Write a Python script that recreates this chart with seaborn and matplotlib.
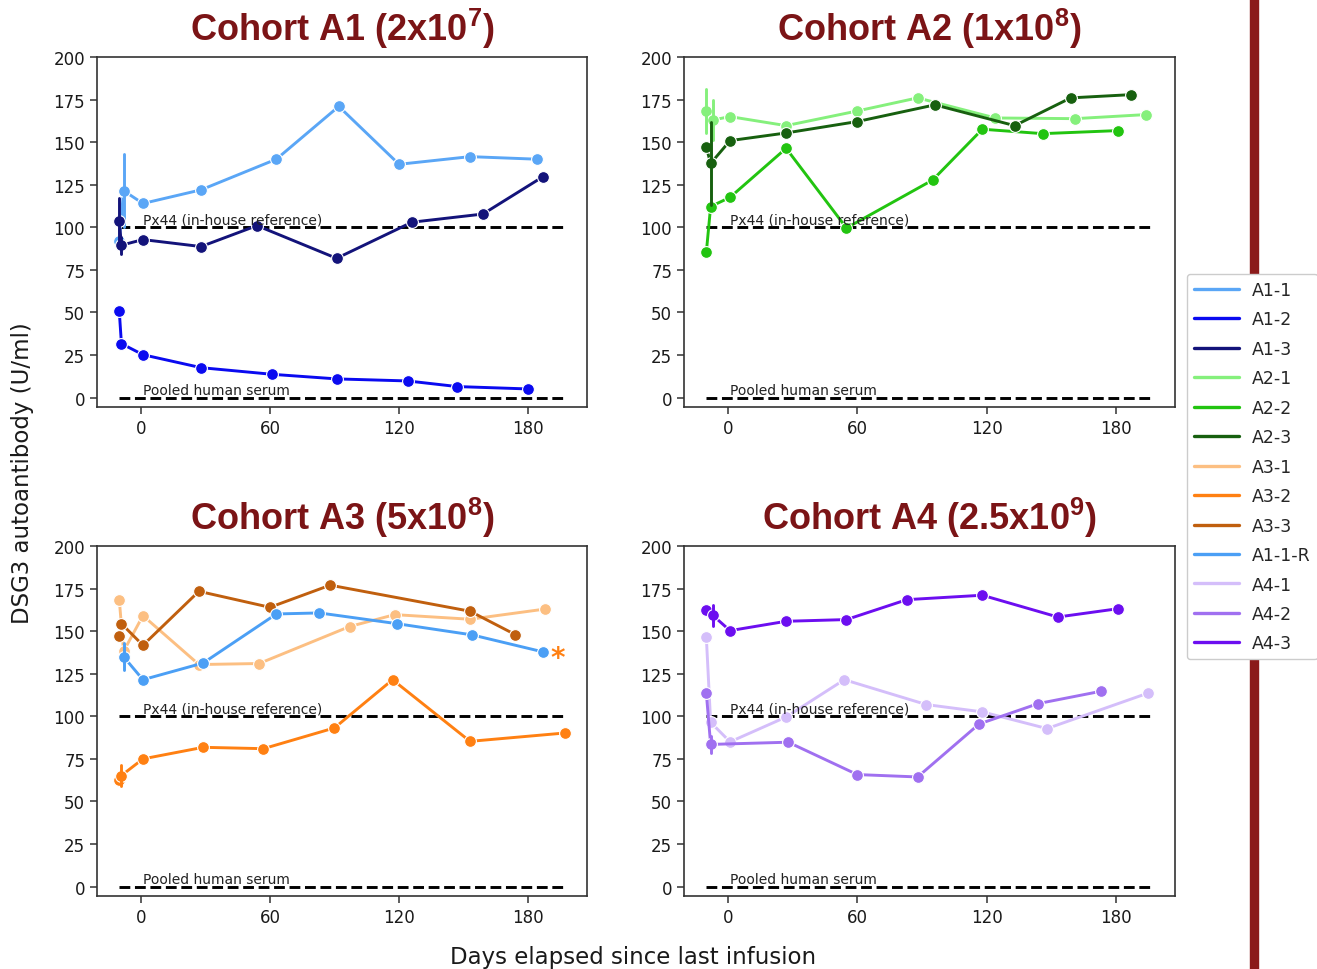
import numpy as np
import pandas as pd
import matplotlib
matplotlib.use("Agg")
import matplotlib.pyplot as plt
from matplotlib.lines import Line2D
from matplotlib.patches import Rectangle
import seaborn as sns

# ---------------- data ----------------
series_names = ["A1-1", "A1-2", "A1-3", "A2-1", "A2-2", "A2-3",
                "A3-1", "A3-2", "A3-3", "A1-1-R", "A4-1", "A4-2", "A4-3"]
panel_titles = [r"Cohort A1 (2x10$^{\mathbf{7}}$)", r"Cohort A2 (1x10$^{\mathbf{8}}$)",
                r"Cohort A3 (5x10$^{\mathbf{8}}$)", r"Cohort A4 (2.5x10$^{\mathbf{9}}$)"]
panel_series = [["A1-1", "A1-2", "A1-3"],
                ["A2-1", "A2-2", "A2-3"],
                ["A3-1", "A3-2", "A3-3", "A1-1-R"],
                ["A4-1", "A4-2", "A4-3"]]

A1_1_day = [-10, -8, -8, 1, 28, 63, 92, 120, 153, 184]
A1_1_val = [92, 100, 143, 114, 122, 140, 171, 137, 141.5, 140]
A1_2_day = [-10, -9, 1, 28, 61, 91, 124, 147, 180]
A1_2_val = [50.7, 31.7, 25.2, 17.6, 13.7, 11, 9.8, 6.5, 5.1]
A1_3_day = [-10, -10, -9, -9, 1, 28, 54, 91, 126, 159, 187]
A1_3_val = [90, 117, 84.5, 94.5, 92.8, 88.7, 101, 81.8, 103, 107.8, 129.8]

A2_1_day = [-10, -10, -7, -7, 1, 27, 60, 88, 124, 161, 194]
A2_1_val = [155.5, 181, 151, 175, 165, 159.7, 168.3, 176, 164.2, 163.8, 166.2]
A2_2_day = [-10, -8, 1, 27, 55, 95, 118, 146, 181]
A2_2_val = [85.3, 112.2, 117.6, 146.4, 99.6, 127.8, 157.6, 155, 156.8]
A2_3_day = [-10, -8, -8, 1, 27, 60, 96, 133, 159, 187]
A2_3_val = [147, 113, 162, 150.9, 155.4, 162.1, 171.9, 159.7, 176, 177.9]

A3_1_day = [-10, -8, 1, 27, 55, 97, 118, 153, 188]
A3_1_val = [168.5, 138.2, 159.1, 130.4, 131, 152.7, 159.7, 157, 163]
A3_2_day = [-10, -9, -9, 1, 29, 57, 90, 117, 153, 197]
A3_2_val = [62.8, 59, 71.5, 75, 81.8, 81, 93.2, 121.5, 85.3, 90.2]
A3_3_day = [-10, -9, 1, 27, 60, 88, 153, 174]
A3_3_val = [147, 154.4, 141.7, 173.4, 164, 177, 161.7, 148]
A1_1R_day = [-8, -8, 1, 29, 63, 83, 119, 154, 187]
A1_1R_val = [127, 143, 121.5, 131.3, 160.1, 160.7, 154.4, 147.8, 137.8]

A4_1_day = [-10, -8, 1, 27, 54, 92, 118, 148, 195]
A4_1_val = [146.6, 96.5, 85, 99.6, 121.5, 106.9, 102.6, 92.8, 113.7]
A4_2_day = [-10, -8, -8, 28, 60, 88, 116.5, 144, 173]
A4_2_val = [113.7, 78.5, 88.5, 84.8, 65.8, 64.4, 95.5, 107.5, 114.7]
A4_3_day = [-10, -7, -7, 1, 27, 55, 83, 118, 153, 181]
A4_3_val = [162.7, 153, 165.6, 150.3, 155.8, 156.8, 168.5, 171.1, 158.3, 163.2]

series_days = [A1_1_day, A1_2_day, A1_3_day, A2_1_day, A2_2_day, A2_3_day,
               A3_1_day, A3_2_day, A3_3_day, A1_1R_day, A4_1_day, A4_2_day, A4_3_day]
series_vals = [A1_1_val, A1_2_val, A1_3_val, A2_1_val, A2_2_val, A2_3_val,
               A3_1_val, A3_2_val, A3_3_val, A1_1R_val, A4_1_val, A4_2_val, A4_3_val]

series_colors = ["#5aa6f6", "#0a0af0", "#13137a", "#85f07c", "#22c410", "#17600f",
                 "#fcbf82", "#ff8012", "#c05f0e", "#4b9ff5", "#d4befa", "#a070f0", "#6c0ef0"]

ref_levels = [100, 0]
ref_labels = ["Px44 (in-house reference)", "Pooled human serum"]
x_ticks = [0, 60, 120, 180]
y_ticks = [0, 25, 50, 75, 100, 125, 150, 175, 200]

# ---------------- build table ----------------
rows = []
for name, dd, vv in zip(series_names, series_days, series_vals):
    for d, v in zip(dd, vv):
        rows.append({"series": name, "day": d, "value": v})
df = pd.DataFrame(rows)
palette = dict(zip(series_names, series_colors))

# ---------------- style ----------------
sns.set_theme(style="ticks")
plt.rcParams["font.family"] = ["DejaVu Sans"]
plt.rcParams["mathtext.fontset"] = "custom"
plt.rcParams["mathtext.bf"] = "Liberation Sans:bold"
plt.rcParams["mathtext.rm"] = "Liberation Sans:bold"

W, H = 1317, 970
fig = plt.figure(figsize=(W / 100, H / 100), dpi=100)
fig.patch.set_facecolor("white")

rects = [[97, 58, 490, 350], [684, 58, 491, 350], [97, 547, 490, 350], [684, 547, 491, 350]]
title_color = "#7b1416"

for i, (r, title, names) in enumerate(zip(rects, panel_titles, panel_series)):
    x0, y0, w, h = r
    ax = fig.add_axes([x0 / W, 1 - (y0 + h) / H, w / W, h / H])
    sub = df[df["series"].isin(names)]
    sns.lineplot(data=sub, x="day", y="value", hue="series", hue_order=names,
                 palette=palette, marker="o", markersize=8.5, markeredgecolor="white",
                 markeredgewidth=0.8, linewidth=2.1, err_style="bars",
                 errorbar=("pi", 100), err_kws={"linewidth": 2.1, "capsize": 0},
                 legend=False, ax=ax)
    ax.hlines(ref_levels, -10, 197, colors="black", linestyles="--", linewidth=2.1, zorder=1)
    ax.text(1.2, 102.3, ref_labels[0], fontsize=10, color="#222222", va="baseline")
    ax.text(1.2, 2.3, ref_labels[1], fontsize=10, color="#222222", va="baseline")
    ax.set_xlim(-20.35, 207.35)
    ax.set_ylim(-5.5, 200)
    ax.set_xticks(x_ticks)
    ax.set_yticks(y_ticks)
    ax.set_xlabel("")
    ax.set_ylabel("")
    ax.tick_params(labelsize=12, length=5, width=1.1, colors="#333333", labelcolor="#1a1a1a")
    for s in ax.spines.values():
        s.set_color("#333333")
        s.set_linewidth(1.2)
    ax.set_title(title, fontsize=26, fontweight="bold", color=title_color,
                 family="Liberation Sans", pad=12)
    if i == 2:
        ax.text(193.5, 134.5, "*", fontsize=20, color="#ff8012", ha="center", va="center",
                fontweight="bold")

fig.text(0.481, 0.013, "Days elapsed since last infusion", fontsize=16.5,
         ha="center", va="center", color="#1a1a1a")
fig.text(0.017, 0.512, "DSG3 autoantibody (U/ml)", fontsize=16.5, rotation=90,
         ha="center", va="center", color="#1a1a1a")

# decorative slide bar on the right
fig.add_artist(Rectangle((1250 / W, 0), 8 / W, 1, transform=fig.transFigure,
                         color="#8b1a1a", zorder=0))

handles = [Line2D([], [], color=c, linewidth=2.4) for c in series_colors]
leg = fig.legend(handles, series_names, loc="upper left",
                 bbox_to_anchor=(1187 / W, 1 - 275 / H), fontsize=12.5,
                 frameon=True, framealpha=1, edgecolor="#cccccc", facecolor="white",
                 handlelength=2.6, handletextpad=0.75, labelspacing=0.66, borderaxespad=0)
leg.set_zorder(10)

fig.savefig("out.png", dpi=100)
